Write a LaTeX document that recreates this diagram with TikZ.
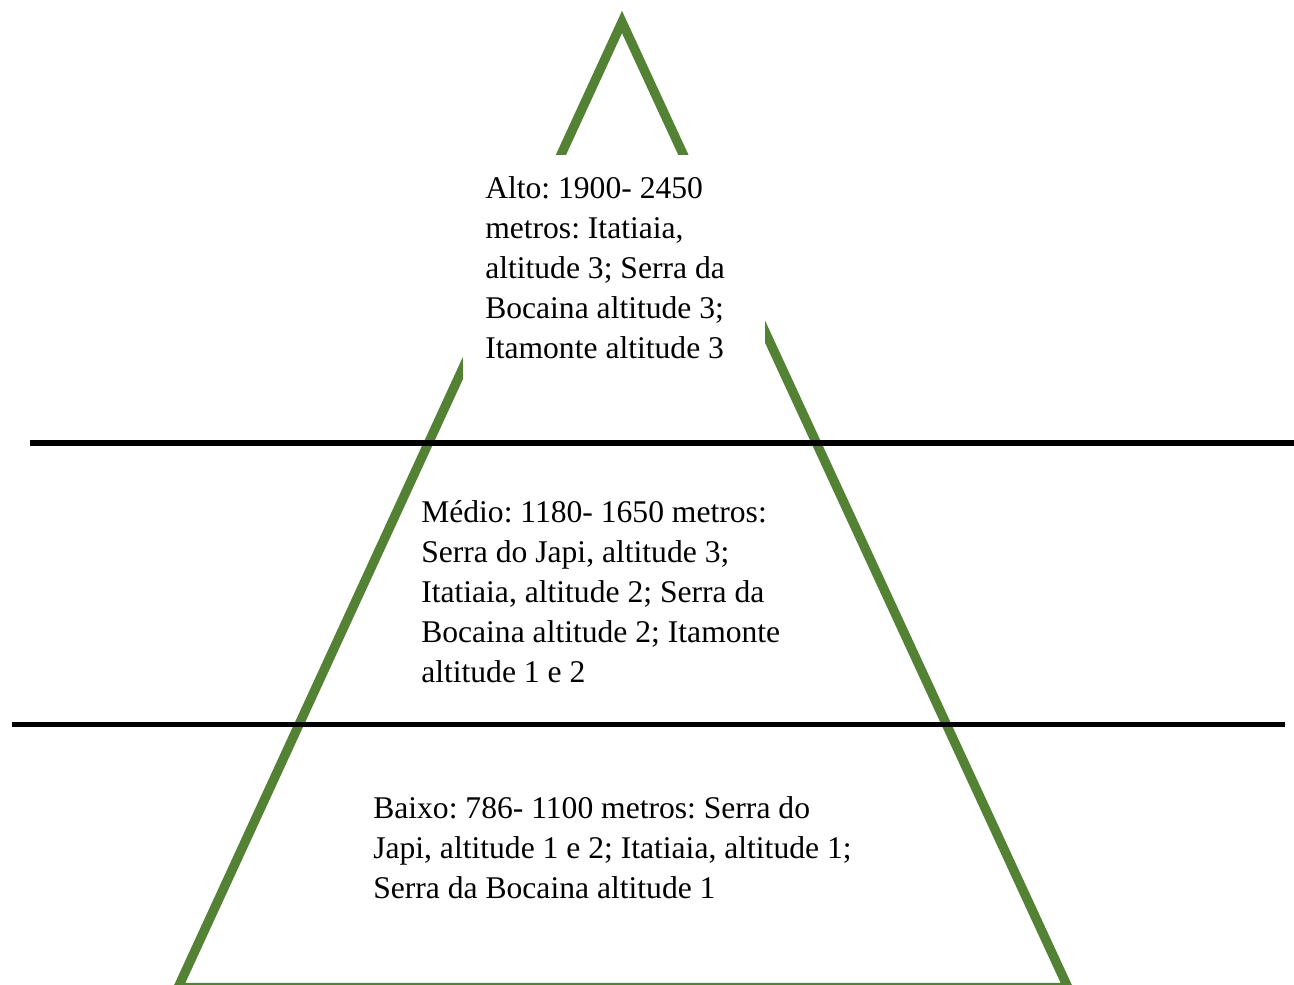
\documentclass[tikz,border=0pt]{standalone}
\usepackage{fontspec}
\setmainfont{Liberation Serif}
\usepackage{xcolor}
\definecolor{pyrgreen}{RGB}{84,130,53}
\frenchspacing

\begin{document}
\begin{tikzpicture}[x=0.75pt,y=-0.75pt,
  lvl/.style={anchor=base west,inner sep=0pt,align=left,font=\fontsize{23.7}{30}\selectfont},
  side/.style={draw=pyrgreen,line width=7pt},
  sepline/.style={draw=black,line width=3.8pt}]
\useasboundingbox (0,0) rectangle (1294,984);
\coordinate (apex) at (622,22);
\coordinate (bl) at (178.1,987.5);
\coordinate (br) at (1067.9,987.5);
\draw[side] (apex) -- (br) -- (bl) -- cycle;
\fill[white] (463,155) rectangle (765,400);
\draw[sepline] (30,443) -- (1294,443);
\draw[sepline] (12,724.5) -- (1285,724.5);
\node[lvl] (alto) at (485,358) {Alto: 1900- 2450\\metros: Itatiaia,\\altitude 3; Serra da\\Bocaina altitude 3;\\Itamonte altitude 3};
\node[lvl] (medio) at (421,682) {Médio: 1180- 1650 metros:\\Serra do Japi, altitude 3;\\Itatiaia, altitude 2; Serra da\\Bocaina altitude 2; Itamonte\\altitude 1 e 2};
\node[lvl] (baixo) at (373,898) {Baixo: 786- 1100 metros: Serra do\\Japi, altitude 1 e 2; Itatiaia, altitude 1;\\Serra da Bocaina altitude 1};
\end{tikzpicture}
\end{document}
